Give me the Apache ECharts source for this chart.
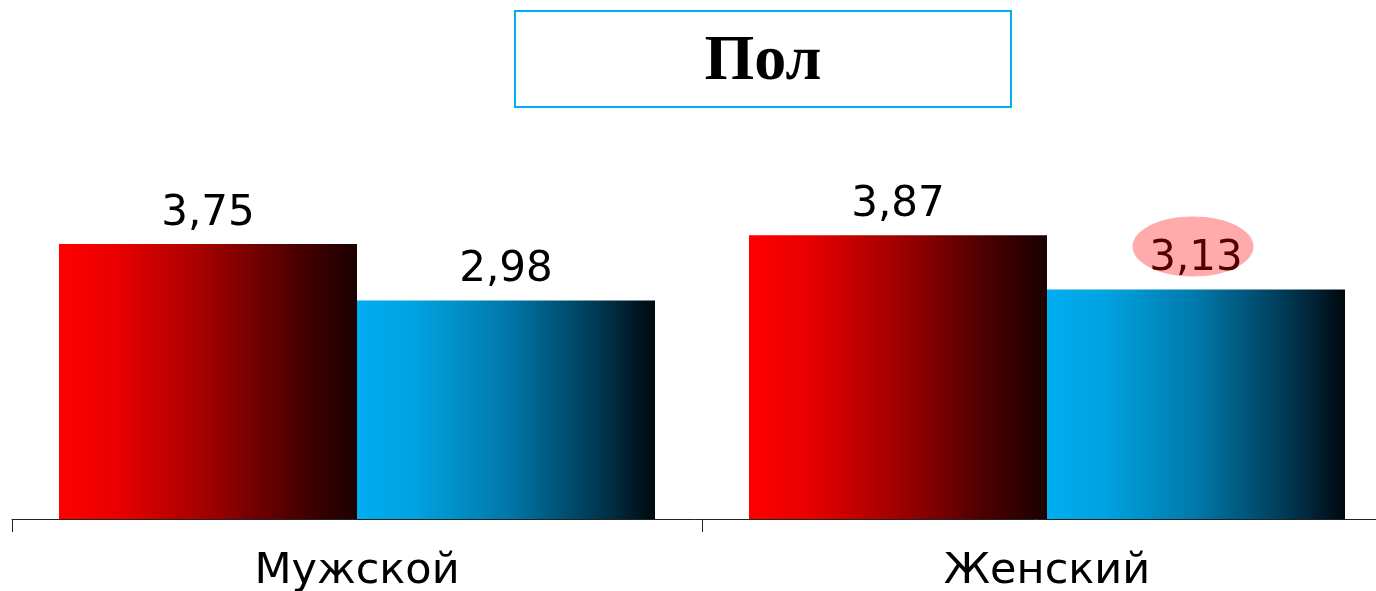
<!DOCTYPE html>
<html><head><meta charset="utf-8">
<script src="https://cdn.jsdelivr.net/npm/echarts@6/dist/echarts.min.js"></script>
<style>html,body{margin:0;padding:0;background:#fff}#c{width:1376px;height:591px}</style>
</head><body><div id="c"></div>
<script>
var titleText = 'Пол';
var categories = ['Мужской', 'Женский'];
var seriesRed = [3.75, 3.87];
var seriesBlue = [2.98, 3.13];
var highlightIndex = 1;

function fmt(v){ return v.toFixed(2).replace('.', ','); }

var BAR_W = 298;
var chart = echarts.init(document.getElementById('c'), null, {renderer:'canvas'});
var redGrad = new echarts.graphic.LinearGradient(0,0,1,0,[
  {offset:0,color:'#FF0000'},{offset:0.2,color:'#E80000'},{offset:0.5,color:'#A00000'},{offset:0.8,color:'#4A0000'},{offset:1,color:'#1A0000'}]);
var blueGrad = new echarts.graphic.LinearGradient(0,0,1,0,[
  {offset:0,color:'#00AEEF'},{offset:0.2,color:'#00A2E0'},{offset:0.5,color:'#0079AA'},{offset:0.8,color:'#003A55'},{offset:1,color:'#00080E'}]);

var labelCfg = {show:true, position:'top', distance:9, color:'#000',
  fontFamily:'DejaVu Sans', fontSize:42, formatter:function(p){return fmt(p.value);}};

chart.setOption({
  animation:false,
  grid:{left:12, width:1380, top:152.3, height:366.7, containLabel:false, outerBoundsMode:'none'},
  xAxis:{type:'category', data:categories,
    axisLine:{lineStyle:{color:'#222', width:1}},
    axisTick:{show:true, length:13, lineStyle:{color:'#222'}},
    axisLabel:{color:'#000', fontFamily:'DejaVu Sans', fontSize:43, margin:31}},
  yAxis:{type:'value', min:0, max:5, show:false, splitLine:{show:false}},
  series:[
    {type:'bar', data:seriesRed, barWidth:BAR_W, barGap:'0%', itemStyle:{color:redGrad}, label:labelCfg},
    {type:'bar', data:seriesBlue, barWidth:BAR_W, barGap:'0%', itemStyle:{color:blueGrad}, label:labelCfg}
  ]
});

var pt = chart.convertToPixel({gridIndex:0}, [highlightIndex, seriesBlue[highlightIndex]]);
chart.setOption({
  graphic:[
    {type:'rect', shape:{x:515, y:11, width:496, height:96}, style:{fill:'#fff', stroke:'#00B0F0', lineWidth:2}, z:10},
    {type:'text', x:763, y:62, style:{text:titleText, fill:'#000', font:'bold 64px "Liberation Serif", "Times New Roman", serif', textAlign:'center', textVerticalAlign:'middle'}, z:11},
    {type:'ellipse', shape:{cx:pt[0] + BAR_W/2 - 3, cy:pt[1] - 43, rx:60.5, ry:30}, style:{fill:'rgba(255,0,0,0.33)'}, z:100}
  ]
});
</script></body></html>
